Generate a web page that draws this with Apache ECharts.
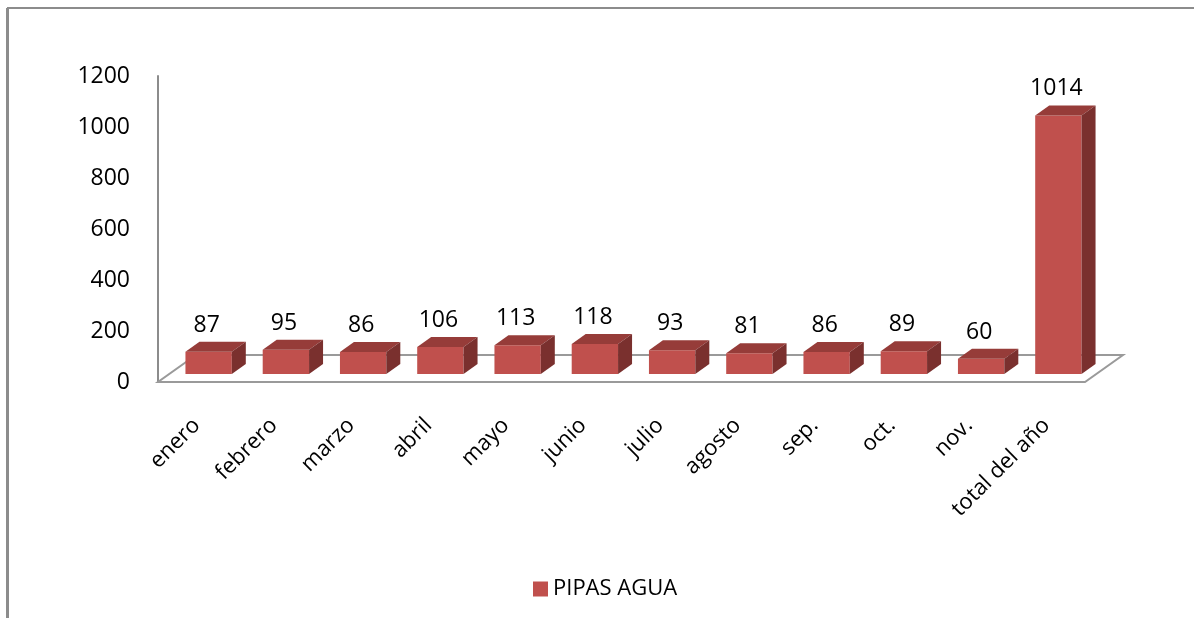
<!DOCTYPE html>
<html>
<head>
<meta charset="utf-8">
<style>
  html, body { margin: 0; padding: 0; background: #fff; }
  #chart { width: 1194px; height: 618px; }
</style>
<script src="https://cdn.jsdelivr.net/npm/echarts@6/dist/echarts.min.js"></script>
</head>
<body>
<div id="chart"></div>
<script>
var categories = ["enero", "febrero", "marzo", "abril", "mayo", "junio", "julio",
  "agosto", "sep.", "oct.", "nov.", "total del año"];
var pipasAgua = [87, 95, 86, 106, 113, 118, 93, 81, 86, 89, 60, 1014];
var yTicks = { min: 0, max: 1200, interval: 200 };

var font = "'Open Sans', 'Liberation Sans', sans-serif";
var depthX = 14, depthY = 10;    // depth of each box
var floorX = 38, floorY = 27;    // depth of the floor
var lift = 8, shift = 12;        // bars stand a little back on the floor

var myChart = echarts.init(document.getElementById("chart"));

// the floor under the bars
function renderFloor(params, api) {
  var cs = params.coordSys;
  var x0 = cs.x, x1 = cs.x + cs.width, y = cs.y + cs.height;
  return {
    type: "polygon",
    shape: { points: [[x0, y], [x1, y], [x1 + floorX, y - floorY], [x0 + floorX, y - floorY]] },
    style: { fill: "#fff", stroke: "#9a9a9a", lineWidth: 2 }
  };
}

// one 3D box per month
function renderBox(params, api) {
  var base = api.coord([api.value(0), 0]);
  var top = api.coord([api.value(0), api.value(1)]);
  var w = api.size([1, 0])[0] * 0.6;
  var cx = base[0] + shift;
  var xl = cx - w / 2, xr = cx + w / 2;
  var yb = base[1] - lift, yt = top[1] - lift;
  return {
    type: "group",
    children: [
      { type: "rect", shape: { x: xl, y: yt, width: w, height: yb - yt },
        style: { fill: "#c0504d" } },
      { type: "polygon", shape: { points: [[xl, yt], [xr, yt], [xr + depthX, yt - depthY], [xl + depthX, yt - depthY]] },
        style: { fill: "#963c39" } },
      { type: "polygon", shape: { points: [[xr, yt], [xr + depthX, yt - depthY], [xr + depthX, yb - depthY], [xr, yb]] },
        style: { fill: "#7a302e" } },
      { type: "text", x: cx - 2, y: yt - depthY - 5,
        style: { text: String(api.value(1)), fill: "#000", font: "23px " + font,
          align: "center", verticalAlign: "bottom" } }
    ]
  };
}

var option = {
  animation: false,
  backgroundColor: "#fff",
  graphic: [
    { type: "line", shape: { x1: 7, y1: 8, x2: 1194, y2: 8 }, style: { stroke: "#8c8c8c", lineWidth: 2 } },
    { type: "line", shape: { x1: 7.5, y1: 8, x2: 7.5, y2: 618 }, style: { stroke: "#8c8c8c", lineWidth: 3 } }
  ],
  grid: { left: 158, right: 109, top: 76, bottom: 236 },
  legend: {
    left: 528, top: 573,
    itemWidth: 15, itemHeight: 15, itemGap: 9,
    icon: "rect",
    textStyle: { fontFamily: font, fontSize: 22, color: "#000" },
    data: [{ name: "PIPAS AGUA", itemStyle: { color: "#c0504d" } }]
  },
  xAxis: {
    type: "category",
    data: categories,
    axisLine: { show: false },
    axisTick: { show: false },
    axisLabel: { rotate: 45, margin: 40, interval: 0, fontFamily: font, fontSize: 22, color: "#000" }
  },
  yAxis: {
    type: "value",
    min: yTicks.min, max: yTicks.max, interval: yTicks.interval,
    axisLine: { show: true, lineStyle: { color: "#8c8c8c", width: 2 } },
    axisTick: { show: false },
    splitLine: { show: false },
    axisLabel: { margin: 28, fontFamily: font, fontSize: 23, color: "#000",
      formatter: function (v) { return String(v); } }
  },
  series: [
    {
      type: "custom",
      name: "floor",
      renderItem: renderFloor,
      data: [[0, 0]],
      z: 1,
      silent: true
    },
    {
      type: "custom",
      name: "PIPAS AGUA",
      renderItem: renderBox,
      itemStyle: { color: "#c0504d" },
      data: pipasAgua.map(function (v, i) { return [i, v]; }),
      z: 2
    }
  ]
};

myChart.setOption(option);
</script>
</body>
</html>
